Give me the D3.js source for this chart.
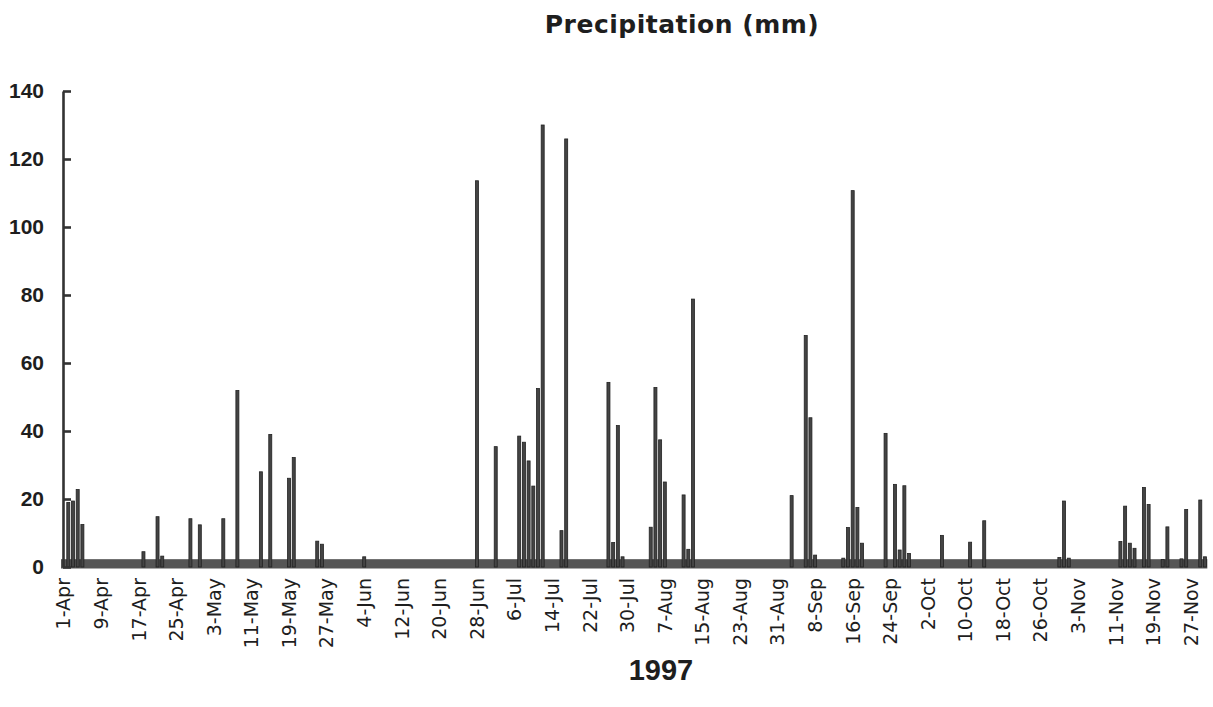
<!DOCTYPE html>
<html><head><meta charset="utf-8">
<script src="https://cdn.jsdelivr.net/npm/d3@7"></script>
<style>
body{margin:0;background:#fff}
svg text{font-family:"Liberation Sans",Arial,sans-serif;fill:#1e1e1e}
</style>
</head><body>
<svg id="chart" width="1213" height="707"></svg>
<script>
// ---- data ----
const startDate = "1997-04-01";
const endDate   = "1997-11-30";
const rainDates = [
 "1997-04-02","1997-04-03","1997-04-04","1997-04-05","1997-04-18","1997-04-21","1997-04-22","1997-04-28","1997-04-30",
 "1997-05-05","1997-05-08","1997-05-13","1997-05-15","1997-05-19","1997-05-20","1997-05-25","1997-05-26",
 "1997-06-04","1997-06-28",
 "1997-07-02","1997-07-07","1997-07-08","1997-07-09","1997-07-10","1997-07-11","1997-07-12","1997-07-16","1997-07-17",
 "1997-07-26","1997-07-27","1997-07-28","1997-07-29",
 "1997-08-04","1997-08-05","1997-08-06","1997-08-07","1997-08-11","1997-08-12","1997-08-13",
 "1997-09-03","1997-09-06","1997-09-07","1997-09-08","1997-09-14","1997-09-15","1997-09-16","1997-09-17","1997-09-18",
 "1997-09-23","1997-09-25","1997-09-26","1997-09-27","1997-09-28",
 "1997-10-05","1997-10-11","1997-10-14","1997-10-30","1997-10-31",
 "1997-11-01","1997-11-12","1997-11-13","1997-11-14","1997-11-15","1997-11-17","1997-11-18","1997-11-21","1997-11-22",
 "1997-11-25","1997-11-26","1997-11-29","1997-11-30"
];
const rainValues = [
 19.0,19.4,22.8,12.5,4.5,14.8,3.2,14.2,12.4,
 14.2,51.9,28.0,39.0,26.1,32.2,7.6,6.7,
 3.0,113.6,
 35.4,38.5,36.7,31.2,23.8,52.5,130.0,10.7,125.9,
 54.3,7.2,41.6,3.0,
 11.7,52.8,37.4,25.0,21.2,5.2,78.8,
 21.0,68.1,43.9,3.5,2.6,11.6,110.7,17.5,7.0,
 39.3,24.3,5.0,23.9,4.0,
 9.3,7.3,13.6,2.8,19.4,
 2.6,7.5,17.9,7.0,5.5,23.4,18.4,2.2,11.8,
 2.4,16.9,19.7,3.0
];
const yTicks = [0,20,40,60,80,100,120,140];
const xTickLabels = ["1-Apr","9-Apr","17-Apr","25-Apr","3-May","11-May","19-May","27-May","4-Jun","12-Jun",
 "20-Jun","28-Jun","6-Jul","14-Jul","22-Jul","30-Jul","7-Aug","15-Aug","23-Aug","31-Aug","8-Sep","16-Sep",
 "24-Sep","2-Oct","10-Oct","18-Oct","26-Oct","3-Nov","11-Nov","19-Nov","27-Nov"];
const chartTitle = "Precipitation (mm)";
const xTitle = "1997";

// ---- build table ----
const parse = d3.timeParse("%Y-%m-%d");
const isoFmt = d3.timeFormat("%Y-%m-%d");
const keyFmt = d3.timeFormat("%-d-%b");
const days = d3.timeDay.range(parse(startDate), d3.timeDay.offset(parse(endDate), 1));
const byDate = new Map(rainDates.map((d, i) => [d, rainValues[i]]));
const data = days.map(d => ({ key: keyFmt(d), v: byDate.get(isoFmt(d)) || 0 }));

// ---- layout ----
const svg = d3.select("#chart");
const step = 4.697;
const x0 = 63.6 - step / 2;
const x = d3.scaleBand().domain(data.map(d => d.key))
  .range([x0, x0 + step * data.length]).paddingInner(0.36).paddingOuter(0.18);
const y = d3.scaleLinear().domain([0, 140]).range([567, 91]);

// title
svg.append("text").attr("x", 682).attr("y", 33).attr("text-anchor", "middle")
  .style("font-family", "'DejaVu Sans',sans-serif")
  .style("font-size", "25px").style("font-weight", "bold").style("letter-spacing", "0.5px")
  .text(chartTitle);

// baseline band
svg.append("rect").attr("x", 61).attr("y", y(2.3))
  .attr("width", x0 + step * data.length - 61).attr("height", y(0) + 1.5 - y(2.3))
  .attr("fill", "#555");

// bars
svg.append("g").selectAll("rect").data(data.filter(d => d.v > 0)).join("rect")
  .attr("x", d => x(d.key)).attr("width", x.bandwidth())
  .attr("y", d => y(d.v)).attr("height", d => y(0) - y(d.v))
  .attr("fill", "#444").attr("stroke", "#222").attr("stroke-width", 0.8);

// y axis
const gy = svg.append("g").attr("transform", "translate(63,0)")
  .call(d3.axisLeft(y).tickValues(yTicks).tickSizeInner(-8).tickSizeOuter(0).tickPadding(19));
gy.select(".domain").attr("stroke", "#333").attr("stroke-width", 2.6);
gy.selectAll(".tick line").attr("stroke", "#333").attr("stroke-width", 2.6);
gy.selectAll(".tick text").style("font-size", "21px").style("font-weight", "bold")
  .attr("fill", "#1e1e1e").style("font-family", "'Liberation Sans',Arial,sans-serif");

// x axis labels
const gx = svg.append("g").attr("transform", `translate(0,${y(0)})`)
  .call(d3.axisBottom(x).tickValues(xTickLabels).tickSize(0));
gx.select(".domain").remove();
gx.selectAll(".tick text")
  .attr("transform", "rotate(-90)").attr("x", -11).attr("y", 0).attr("dy", "0.36em")
  .attr("text-anchor", "end").attr("fill", "#1e1e1e")
  .style("font-size", "19px").style("font-family", "'DejaVu Sans',sans-serif");

// x title
svg.append("text").attr("x", 661).attr("y", 680).attr("text-anchor", "middle")
  .style("font-size", "29px").style("font-weight", "bold").text(xTitle);
</script>
</body></html>
